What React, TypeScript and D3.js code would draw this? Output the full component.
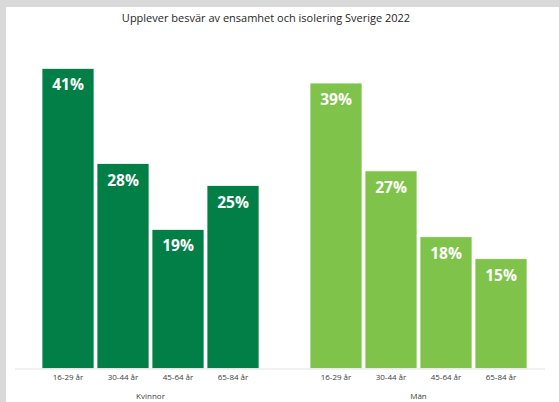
import React from "react";
import * as d3 from "d3";

const title = "Upplever besvär av ensamhet och isolering Sverige 2022";
const groups = ["Kvinnor", "Män"];
const ageGroups = ["16-29 år", "30-44 år", "45-64 år", "65-84 år"];
const kvinnorValues = [41, 28, 19, 25];
const manValues = [39, 27, 18, 15];
const groupColors = ["#017f46", "#80c34b"];

const W = 559;
const H = 402;

export default function App() {
  const series = [kvinnorValues, manValues];
  const baseY = 368.5;
  const y = d3.scaleLinear().domain([0, 45]).range([baseY, baseY - 45 * 7.32]);
  const outer = d3
    .scaleBand<string>()
    .domain(groups)
    .range([40.5, 528.5])
    .paddingInner(48 / 268)
    .paddingOuter(0);
  const inner = d3
    .scaleBand<string>()
    .domain(ageGroups)
    .range([0, outer.bandwidth()])
    .paddingInner(3 / 55)
    .paddingOuter(1.5 / 55);
  const font = "'Open Sans', sans-serif";

  return (
    <svg
      width={W}
      height={H}
      style={{ position: "absolute", left: 0, top: 0, display: "block" }}
    >
      <rect x={0} y={0} width={W} height={H} fill="#d9d9d9" />
      <rect x={6} y={7} width={W - 6} height={H - 7} fill="#ffffff" />
      <text
        x={266}
        y={21.5}
        textAnchor="middle"
        fontFamily={font}
        fontSize={11}
        fill="#262626"
      >
        {title}
      </text>
      {groups.map((g, gi) => {
        const gx = outer(g) as number;
        return (
          <g key={g}>
            {ageGroups.map((a, ai) => {
              const v = series[gi][ai];
              const x = gx + (inner(a) as number);
              const bw = inner.bandwidth();
              return (
                <g key={a}>
                  <rect
                    x={x}
                    y={y(v)}
                    width={bw}
                    height={baseY - y(v)}
                    fill={groupColors[gi]}
                    stroke="#ffffff"
                    strokeWidth={0.75}
                  />
                  <text
                    x={x + bw / 2}
                    y={y(v) + 22}
                    textAnchor="middle"
                    fontFamily={font}
                    fontWeight={700}
                    fontSize={15.5}
                    fill="#ffffff"
                  >
                    {v}%
                  </text>
                  <text
                    x={x + bw / 2}
                    y={380}
                    textAnchor="middle"
                    fontFamily={font}
                    fontSize={8}
                    fill="#404040"
                  >
                    {a}
                  </text>
                </g>
              );
            })}
            <text
              x={gx + outer.bandwidth() / 2}
              y={398.5}
              textAnchor="middle"
              fontFamily={font}
              fontSize={8}
              fill="#404040"
            >
              {g}
            </text>
          </g>
        );
      })}
      <line x1={15} x2={545} y1={369} y2={369} stroke="#e3e3e3" strokeWidth={1} />
    </svg>
  );
}
